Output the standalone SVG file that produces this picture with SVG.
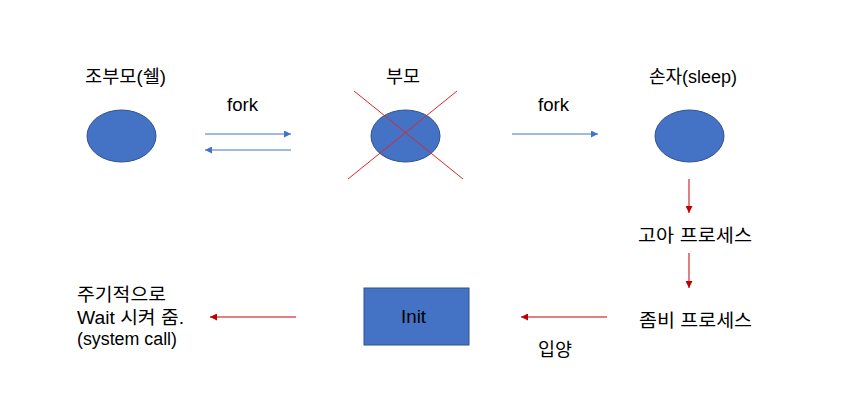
<svg xmlns="http://www.w3.org/2000/svg" width="856" height="404" viewBox="0 0 856 404">
<style>
text{font-family:"Liberation Sans","Noto Sans CJK KR",sans-serif;font-size:18px;fill:#000;}
.node{fill:#4472C4;stroke:#2F528F;stroke-width:1;}
.blue{stroke:#4472C4;stroke-width:1;fill:none;marker-end:url(#ab);}
.red{stroke:#C00000;stroke-width:1;fill:none;marker-end:url(#ar);}
</style>
<defs>
<marker id="ab" viewBox="0 0 10 10" refX="10" refY="5" markerWidth="7" markerHeight="7" markerUnits="userSpaceOnUse" orient="auto"><path d="M0,0L10,5L0,10z" fill="#4472C4"/></marker>
<marker id="ar" viewBox="0 0 10 10" refX="10" refY="5" markerWidth="7" markerHeight="7" markerUnits="userSpaceOnUse" orient="auto"><path d="M0,0L10,5L0,10z" fill="#C00000"/></marker>
</defs>
<rect width="856" height="404" fill="#fff"/>
<g id="grandparent">
<ellipse class="node" cx="121.5" cy="136" rx="34.5" ry="26"/>
<text x="85" y="83" textLength="81" lengthAdjust="spacingAndGlyphs">조부모(쉘)</text>
</g>
<g id="parent">
<ellipse class="node" cx="405.5" cy="136" rx="34.5" ry="26"/>
<line x1="354" y1="91" x2="463" y2="179" stroke="#E0262B" stroke-width="1"/>
<line x1="457" y1="91" x2="348" y2="179" stroke="#E0262B" stroke-width="1"/>
<text x="386" y="83" textLength="34" lengthAdjust="spacingAndGlyphs">부모</text>
</g>
<g id="child">
<ellipse class="node" cx="689.5" cy="136" rx="34.5" ry="26"/>
<text x="649" y="83" textLength="88" lengthAdjust="spacingAndGlyphs">손자(sleep)</text>
</g>
<g id="orphan"><text x="638" y="242" textLength="114" lengthAdjust="spacingAndGlyphs">고아 프로세스</text></g>
<g id="zombie"><text x="639" y="327" textLength="113" lengthAdjust="spacingAndGlyphs">좀비 프로세스</text></g>
<g id="init">
<rect class="node" x="364" y="288" width="105" height="57"/>
<text x="401" y="323" textLength="25" lengthAdjust="spacingAndGlyphs">Init</text>
</g>
<g id="wait">
<text x="77" y="301" textLength="89" lengthAdjust="spacingAndGlyphs">주기적으로</text>
<text x="77" y="324" textLength="107" lengthAdjust="spacingAndGlyphs">Wait 시켜 줌.</text>
<text x="77" y="345" textLength="100" lengthAdjust="spacingAndGlyphs">(system call)</text>
</g>
<g id="connectors">
<line class="blue" x1="205" y1="134" x2="291" y2="134"/>
<line class="blue" x1="291" y1="150" x2="205" y2="150"/>
<line class="blue" x1="512" y1="134" x2="598" y2="134"/>
<line class="red" x1="689" y1="179" x2="689" y2="213"/>
<line class="red" x1="689" y1="253" x2="689" y2="288"/>
<line class="red" x1="607" y1="317" x2="521" y2="317"/>
<line class="red" x1="296" y1="317" x2="210" y2="317"/>
<text x="227" y="111" textLength="31" lengthAdjust="spacingAndGlyphs">fork</text>
<text x="538" y="111" textLength="31" lengthAdjust="spacingAndGlyphs">fork</text>
<text x="538" y="356" textLength="34" lengthAdjust="spacingAndGlyphs">입양</text>
</g>
</svg>
